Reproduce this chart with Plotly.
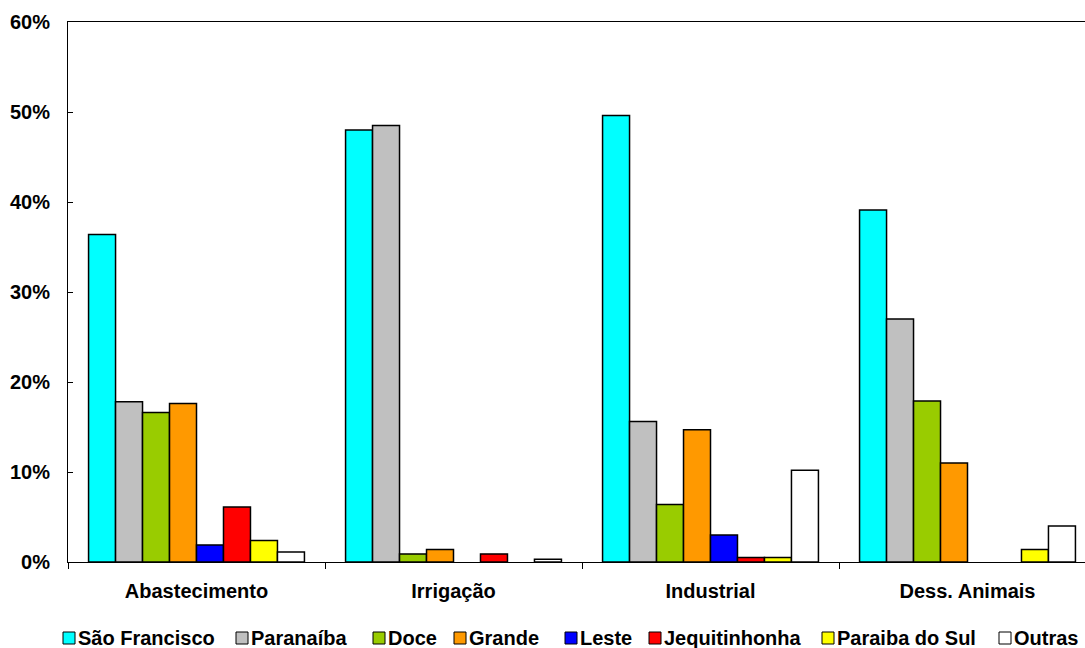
import plotly.graph_objects as go

categories = ["Abastecimento", "Irrigação", "Industrial", "Dess. Animais"]
series_names = ["São Francisco", "Paranaíba", "Doce", "Grande", "Leste",
                "Jequitinhonha", "Paraiba do Sul", "Outras"]
series_colors = ["#00FFFF", "#C0C0C0", "#99CC00", "#FF9900", "#0000FF",
                 "#FF0000", "#FFFF00", "#FFFFFF"]

sao_francisco = [36.4, 48.0, 49.6, 39.1]
paranaiba = [17.8, 48.5, 15.6, 27.0]
doce = [16.6, 0.9, 6.4, 17.9]
grande = [17.6, 1.4, 14.7, 11.0]
leste = [1.9, None, 3.0, None]
jequitinhonha = [6.1, 0.9, 0.5, None]
paraiba_do_sul = [2.4, None, 0.5, 1.4]
outras = [1.1, 0.3, 10.2, 4.0]

series_values = [sao_francisco, paranaiba, doce, grande, leste,
                 jequitinhonha, paraiba_do_sul, outras]

y_ticks = [0, 10, 20, 30, 40, 50, 60]
y_tick_labels = ["0%", "10%", "20%", "30%", "40%", "50%", "60%"]

# legend square positions (pixels in the 1085-wide page)
legend_px = [63, 236, 373, 454, 565, 649, 822, 999]

FONT = "Liberation Sans, Arial, sans-serif"
FS = 20
W, H = 1085, 648
ML, MR, MT, MB = 68, 0, 22, 86
PW = W - ML - MR
PH = H - MT - MB

fig = go.Figure()
for name, vals, col in zip(series_names, series_values, series_colors):
    fig.add_trace(go.Bar(
        x=categories, y=vals, name=name,
        marker=dict(color=col, line=dict(color="black", width=1.5)),
        showlegend=False,
    ))

# custom legend (compact square + label)
legend_y_px = 638
ly = (MT + PH - legend_y_px) / PH
shapes = []
annotations = []
for name, col, px in zip(series_names, series_colors, legend_px):
    xp = (px - ML) / PW
    shapes.append(dict(
        type="rect", xref="paper", yref="paper",
        xsizemode="pixel", ysizemode="pixel",
        xanchor=xp, yanchor=ly,
        x0=0, x1=12, y0=-6, y1=6,
        fillcolor=col, line=dict(color="black", width=1),
    ))
    annotations.append(dict(
        x=xp, y=ly, xref="paper", yref="paper",
        xanchor="left", yanchor="middle", xshift=13,
        text=f"<b>{name}</b>", showarrow=False,
        font=dict(family=FONT, size=FS, color="black"),
    ))

n = len(categories)
cat_px = 257
fig.update_layout(
    width=W, height=H,
    margin=dict(l=ML, r=MR, t=MT, b=MB),
    paper_bgcolor="white", plot_bgcolor="white",
    barmode="group", bargap=0.16, bargroupgap=0,
    font=dict(family=FONT, size=FS, color="black"),
    shapes=shapes, annotations=annotations,
    xaxis=dict(
        range=[-0.5, -0.5 + PW / cat_px],
        showline=True, linecolor="black", linewidth=1, mirror=True,
        ticks="outside", ticklen=6, tickcolor="black", tickson="boundaries",
        tickfont=dict(family=FONT, size=FS, color="black", weight="bold"),
        ticklabelstandoff=11,
        showgrid=False, zeroline=False, fixedrange=True,
    ),
    yaxis=dict(
        range=[0, 60], tickvals=y_ticks, ticktext=y_tick_labels,
        showline=True, linecolor="black", linewidth=1,
        ticks="inside", ticklen=5, tickcolor="black",
        tickfont=dict(family=FONT, size=FS, color="black", weight="bold"),
        ticklabelstandoff=13,
        showgrid=False, zeroline=False, fixedrange=True,
    ),
)

fig.write_html("out.html")
